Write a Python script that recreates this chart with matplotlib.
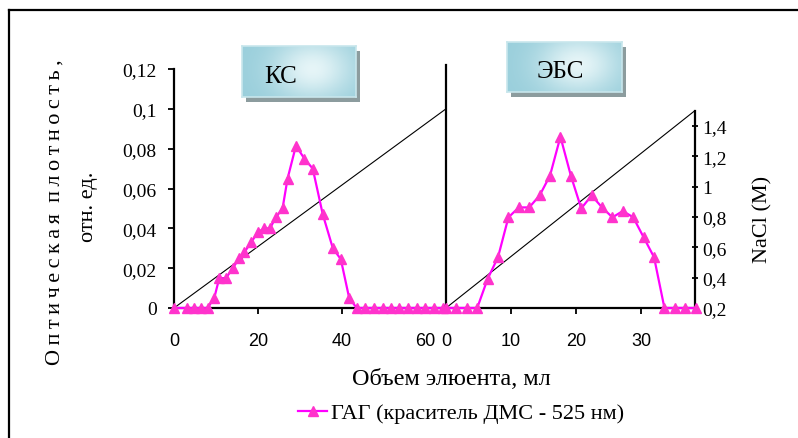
import matplotlib
matplotlib.use("Agg")
import matplotlib.pyplot as plt
from matplotlib.patches import Rectangle
from matplotlib.lines import Line2D
import numpy as np

# КС: объем (мл) и оптическая плотность
kc_x = [0, 3.2, 4.8, 6.4, 8.0, 9.6, 10.8, 12.4, 14.0, 15.6, 16.8, 18.4, 20.0, 21.5, 22.9,
        24.3, 25.9, 27.1, 29.1, 31.1, 33.1, 35.5, 37.9, 39.8, 41.8, 43.6, 45.6, 47.7, 49.8,
        51.8, 53.8, 55.9, 57.9, 59.9, 62.0, 64.1]
kc_y = [0, 0, 0, 0, 0, 0.005, 0.015, 0.015, 0.02, 0.025, 0.028, 0.033, 0.038, 0.040, 0.040,
        0.0455, 0.050, 0.065, 0.0815, 0.075, 0.070, 0.047, 0.030, 0.0245, 0.005, 0, 0, 0, 0,
        0, 0, 0, 0, 0, 0, 0]
kc_grad_x = [0, 64.9]
kc_grad_y = [0, 0.1]

# ЭБС
ebs_x = [0, 1.6, 3.2, 4.8, 6.4, 8.0, 9.6, 11.2, 12.8, 14.4, 16.0, 17.6, 19.2, 20.8, 22.4,
         24.0, 25.6, 27.2, 28.8, 30.4, 32.0, 33.6, 35.2, 36.8, 38.4]
ebs_y = [0, 0, 0, 0, 0.0146, 0.0255, 0.0455, 0.0505, 0.0505, 0.0565, 0.0665, 0.086, 0.0665,
         0.050, 0.0565, 0.0505, 0.0455, 0.0487, 0.0455, 0.0355, 0.0255, 0, 0, 0, 0]
ebs_grad_x = [0, 38.3]
ebs_grad_y = [0.2, 1.5]

kc_ticks = [0, 20, 40, 60]
ebs_ticks = [0, 10, 20, 30]
od_ticks = [0, 0.02, 0.04, 0.06, 0.08, 0.1, 0.12]
od_labels = ["0", "0,02", "0,04", "0,06", "0,08", "0,1", "0,12"]
nacl_ticks = [0.2, 0.4, 0.6, 0.8, 1.0, 1.2, 1.4]
nacl_labels = ["0,2", "0,4", "0,6", "0,8", "1", "1,2", "1,4"]

W, H = 798, 439
serif = ["Liberation Serif", "DejaVu Serif"]
sans = ["Liberation Sans", "DejaVu Sans"]
line_col = "#ff00ff"
mark_col = "#ff33cc"


def fx(px):
    return px / W


def fy(py):
    return 1 - py / H


fig = plt.figure(figsize=(W / 100, H / 100), dpi=100)

# рамка (обрезана справа и снизу)
fig.add_artist(Line2D([fx(9), fx(9)], [fy(11), 0], transform=fig.transFigure, color="black", lw=1.6))
fig.add_artist(Line2D([fx(9), 1], [fy(11), fy(11)], transform=fig.transFigure, color="black", lw=1.6))

ax1 = fig.add_axes([fx(174), fy(309), fx(446) - fx(174), fy(70) - fy(309)])
ax2 = fig.add_axes([fx(446), fy(309), fx(695) - fx(446), fy(66) - fy(309)])
ax3 = ax2.twinx()

ax1.plot(kc_x, kc_y, color=line_col, lw=1.6, marker="^", ms=7, mfc=mark_col, mec=mark_col,
         clip_on=False, zorder=3, label="ГАГ (краситель ДМС - 525 нм)")
ax1.plot(kc_grad_x, kc_grad_y, color="black", lw=0.8, zorder=2)
ax1.set_xlim(0, 64.9)
ax1.set_ylim(0, 0.12)
ax1.spines["top"].set_visible(False)
ax1.spines["right"].set_visible(False)
ax1.set_xticks(kc_ticks)
ax1.set_yticks(od_ticks)
ax1.set_yticklabels(od_labels, fontfamily=serif, fontsize=14)
ax1.tick_params(axis="y", length=4.5, width=1.3, pad=8)
ax1.tick_params(axis="x", length=4, width=1.3, pad=13)
for lab in ax1.get_xticklabels():
    lab.set_fontfamily(sans)
    lab.set_fontsize(13)

ax2.plot(ebs_x, ebs_y, color=line_col, lw=1.6, marker="^", ms=7, mfc=mark_col, mec=mark_col,
         clip_on=False, zorder=3)
ax2.set_xlim(0, 38.3)
ax2.set_ylim(0, 0.12 * 243 / 239)
ax2.spines["top"].set_visible(False)
ax2.spines["right"].set_visible(False)
ax2.set_yticks([])
ax2.set_xticks(ebs_ticks)
ax2.tick_params(axis="x", length=4, width=1.3, pad=13)
for lab in ax2.get_xticklabels():
    lab.set_fontfamily(sans)
    lab.set_fontsize(13)
for a in (ax1, ax2):
    for s in ("left", "bottom"):
        a.spines[s].set_linewidth(1.6)

ax3.plot(ebs_grad_x, ebs_grad_y, color="black", lw=0.8, zorder=2)
ax3.set_ylim(0.2, 1.8)
ax3.spines["top"].set_visible(False)
ax3.spines["left"].set_visible(False)
ax3.spines["bottom"].set_visible(False)
ax3.spines["right"].set_linewidth(1.6)
ax3.spines["right"].set_bounds(0.2, 1.5)
ax3.set_yticks(nacl_ticks)
ax3.set_yticklabels(nacl_labels, fontfamily=serif, fontsize=14)
ax3.tick_params(axis="y", direction="inout", length=4, width=1.3, pad=3)
ax3.set_ylabel("NaCl (M)", fontfamily=serif, fontsize=16, va="center")
ax3.yaxis.set_label_coords((763 - 446) / 249, (309 - 219) / 243)
ax2.set_zorder(ax3.get_zorder() + 1)
ax2.patch.set_visible(False)

# подписи осей
ylab1 = "\u2009".join("Оптическая") + "  " + "\u2009".join("плотность,")
fig.text(fx(55), fy(212), ylab1, rotation=90, ha="center", va="center", fontfamily=serif, fontsize=16)
fig.text(fx(88), fy(207), "отн. ед.", rotation=90, ha="center", va="center", fontfamily=serif, fontsize=16)
fig.text(fx(451), fy(380), "Объем элюента, мл", ha="center", va="center", fontfamily=serif, fontsize=17.5)

fig.legend(loc="center", bbox_to_anchor=(fx(461), fy(414)), frameon=False,
           prop={"family": serif, "size": 16}, handlelength=1.3, handletextpad=0.15)

# таблички КС / ЭБС
def badge(x0, y0, x1, y1, text, tx):
    sh = Rectangle((fx(x0 + 4), fy(y1 + 5)), fx(x1) - fx(x0), fy(y0) - fy(y1),
                   transform=fig.transFigure, facecolor="#8c9c9e", edgecolor="none", zorder=5)
    fig.add_artist(sh)
    bx = fig.add_axes([fx(x0), fy(y1), fx(x1) - fx(x0), fy(y0) - fy(y1)], zorder=6)
    u, v = np.meshgrid(np.linspace(0, 1, 100), np.linspace(0, 1, 40))
    g = np.exp(-((u - 0.62) ** 2 / 0.12 + (v - 0.45) ** 2 / 0.35))
    c0 = np.array([0.60, 0.81, 0.86])
    c1 = np.array([0.90, 0.96, 0.97])
    img = c0 + (c1 - c0) * g[..., None]
    bx.imshow(img, aspect="auto", extent=(0, 1, 0, 1))
    bx.set_xticks([])
    bx.set_yticks([])
    for s in bx.spines.values():
        s.set_color("#c8e6ec")
        s.set_linewidth(1.2)
    bx.text(tx, 0.42, text, transform=bx.transAxes, ha="center", va="center",
            fontfamily=serif, fontsize=18)


badge(242, 47, 356, 98, "КС", 0.34)
badge(507, 43, 622, 93, "ЭБС", 0.46)

fig.savefig("out.png", dpi=100)
